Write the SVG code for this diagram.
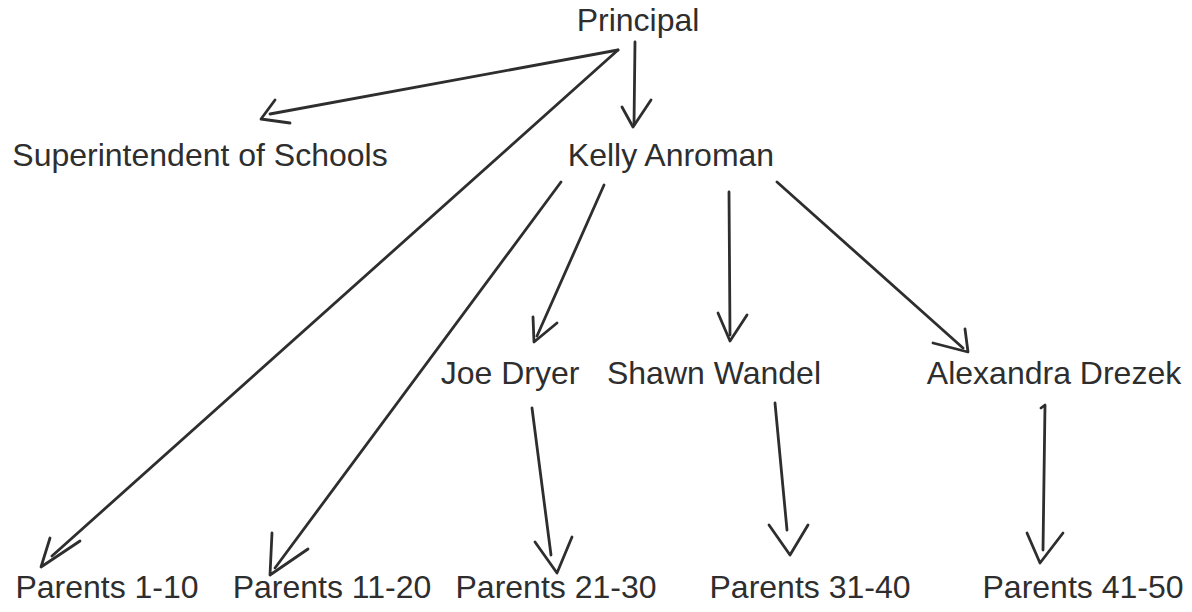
<svg xmlns="http://www.w3.org/2000/svg" width="1192" height="612" viewBox="0 0 1192 612">
<style>
.t{font-family:"Liberation Sans",Arial,sans-serif;font-size:32px;fill:#2e2e2e;text-anchor:middle}
.c{fill:none;stroke:#2e2e2e;stroke-width:2.8;stroke-linecap:round;stroke-linejoin:round}
</style>
<rect width="1192" height="612" fill="#ffffff"/>
<g id="connectors">
<g id="e-principal-super"><path class="c" d="M618,50 L270,114"/><path class="c" d="M275,100 L261,119 L290,123"/></g>
<g id="e-principal-kelly"><path class="c" d="M635,42 L634,125"/><path class="c" d="M622,107 L633,127 L651,100"/></g>
<g id="e-principal-p1"><path class="c" d="M618,50 L52,556"/><path class="c" d="M50,538 L41,567 L80,541"/></g>
<g id="e-kelly-p11"><path class="c" d="M561,182 L275,568"/><path class="c" d="M272,533 L270,575 L308,549"/></g>
<g id="e-kelly-joe"><path class="c" d="M604,185 L537,336"/><path class="c" d="M533,317 L534,342 L557,323"/></g>
<g id="e-kelly-shawn"><path class="c" d="M729,192 L730,335"/><path class="c" d="M718,313 L730,341 L747,315"/></g>
<g id="e-kelly-alex"><path class="c" d="M777,182 L963,348"/><path class="c" d="M933,343 L968,352 L965,329"/></g>
<g id="e-joe-p21"><path class="c" d="M532,408 L551,555"/><path class="c" d="M535,542 L557,573 L572,537"/></g>
<g id="e-shawn-p31"><path class="c" d="M775,403 L787,530"/><path class="c" d="M769,525 L790,555 L808,525"/></g>
<g id="e-alex-p41"><path class="c" d="M1041,408 L1045,405 L1043,550"/><path class="c" d="M1027,533 L1040,563 L1063,533"/></g>
</g>
<g id="n-principal"><text class="t" x="638" y="31">Principal</text></g>
<g id="n-super"><text class="t" x="200" y="166">Superintendent of Schools</text></g>
<g id="n-kelly"><text class="t" x="671" y="166">Kelly Anroman</text></g>
<g id="n-joe"><text class="t" x="510" y="384">Joe Dryer</text></g>
<g id="n-shawn"><text class="t" x="714" y="384">Shawn Wandel</text></g>
<g id="n-alex"><text class="t" x="1054" y="384">Alexandra Drezek</text></g>
<g id="n-p1"><text class="t" x="107" y="598">Parents 1-10</text></g>
<g id="n-p11"><text class="t" x="332" y="598">Parents 11-20</text></g>
<g id="n-p21"><text class="t" x="556" y="598">Parents 21-30</text></g>
<g id="n-p31"><text class="t" x="810" y="598">Parents 31-40</text></g>
<g id="n-p41"><text class="t" x="1083" y="598">Parents 41-50</text></g>
</svg>
